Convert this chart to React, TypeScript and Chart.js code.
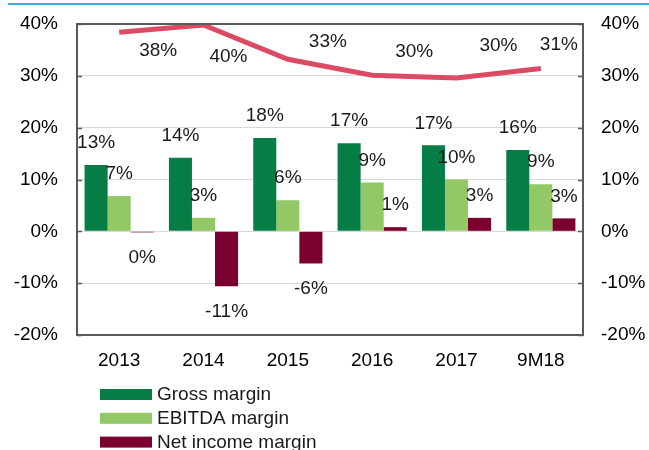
import React, { useEffect, useRef } from "react";
import { Chart, registerables } from "chart.js";

Chart.register(...registerables);

const categories = ["2013", "2014", "2015", "2016", "2017", "9M18"];
const grossMargin = [12.8, 14.2, 18.0, 17.0, 16.6, 15.7];
const ebitdaMargin = [6.8, 2.6, 6.0, 9.4, 10.0, 9.1];
const netIncomeMargin = [-0.2, -10.6, -6.2, 0.8, 2.6, 2.5];
const lineMargin = [38.4, 39.8, 33.2, 30.1, 29.6, 31.4];
const yTicks = [-20, -10, 0, 10, 20, 30, 40];

// label placement offsets (px) for the line's value labels
const lineLabelOffsets: [number, number][] = [
  [39, 18],
  [25, 32],
  [40, -17],
  [42, -24],
  [42, -32],
  [18, -24],
];

const FONT = "'Liberation Sans', Arial, sans-serif";
const COLORS = {
  gross: "#077d46",
  ebitda: "#92c865",
  net: "#7a0030",
  line: "#dc4b64",
  grid: "#d9d9d9",
  frame: "#5a5a5a",
  text: "#1a1a1a",
};

const overlay = {
  id: "overlay",
  afterDraw(chart: any) {
    const ctx = chart.ctx as CanvasRenderingContext2D;
    const { left, right, top, bottom } = chart.chartArea;
    const yScale = chart.scales.y;
    ctx.save();

    // top blue rule
    ctx.strokeStyle = "#41aae1";
    ctx.lineWidth = 2;
    ctx.beginPath();
    ctx.moveTo(8, 4);
    ctx.lineTo(649, 4);
    ctx.stroke();

    // frame
    ctx.strokeStyle = COLORS.frame;
    ctx.lineWidth = 2;
    ctx.strokeRect(left, top, right - left, bottom - top);

    // inner tick marks
    ctx.lineWidth = 1.5;
    yTicks.forEach((t) => {
      const y = Math.round(yScale.getPixelForValue(t)) + 0.5;
      ctx.beginPath();
      ctx.moveTo(left, y);
      ctx.lineTo(left + 5, y);
      ctx.moveTo(right - 5, y);
      ctx.lineTo(right, y);
      ctx.stroke();
    });

    // bar labels
    ctx.font = `19px ${FONT}`;
    ctx.fillStyle = COLORS.text;
    ctx.textAlign = "center";
    ctx.textBaseline = "middle";
    [0, 1, 2].forEach((di) => {
      const ds = chart.data.datasets[di];
      const meta = chart.getDatasetMeta(di);
      meta.data.forEach((el: any, j: number) => {
        const v = ds.data[j] as number;
        const y = v >= 0 ? el.y - 22 : el.y + 25;
        ctx.fillText(`${Math.round(v)}%`, el.x, y);
      });
    });

    // line labels
    const lds = chart.data.datasets[3];
    const lmeta = chart.getDatasetMeta(3);
    lmeta.data.forEach((el: any, j: number) => {
      const v = lds.data[j] as number;
      const [dx, dy] = lineLabelOffsets[j];
      ctx.fillText(`${Math.round(v)}%`, el.x + dx, el.y + dy);
    });

    // legend
    ctx.textAlign = "left";
    [0, 1, 2].forEach((di, k) => {
      const ds = chart.data.datasets[di];
      const cy = 394.5 + k * 23.8;
      ctx.fillStyle = ds.backgroundColor as string;
      ctx.fillRect(100, cy - 5.5, 52, 11);
      ctx.fillStyle = COLORS.text;
      ctx.fillText(ds.label, 157, cy + 0.5);
    });

    ctx.restore();
  },
};

export default function App() {
  const ref = useRef<HTMLCanvasElement>(null);

  useEffect(() => {
    if (!ref.current) return;
    const tickFont = { family: FONT, size: 19 };
    const chart = new Chart(ref.current, {
      type: "bar",
      data: {
        labels: categories,
        datasets: [
          {
            label: "Gross margin",
            data: grossMargin,
            backgroundColor: COLORS.gross,
            order: 2,
          },
          {
            label: "EBITDA margin",
            data: ebitdaMargin,
            backgroundColor: COLORS.ebitda,
            order: 2,
          },
          {
            label: "Net income margin",
            data: netIncomeMargin,
            backgroundColor: COLORS.net,
            order: 2,
          },
          {
            type: "line",
            label: "Margin",
            data: lineMargin,
            borderColor: COLORS.line,
            borderWidth: 5,
            pointRadius: 0,
            tension: 0,
            order: 1,
          } as any,
        ],
      },
      options: {
        responsive: false,
        devicePixelRatio: 1,
        animation: false,
        datasets: {
          bar: { categoryPercentage: 0.82, barPercentage: 1.0 },
        },
        layout: { padding: { top: 24, left: 0, right: 0, bottom: 0 } },
        plugins: {
          legend: { display: false },
          tooltip: { enabled: false },
          title: { display: false },
        },
        scales: {
          x: {
            grid: { display: false, drawTicks: false },
            border: { display: false },
            ticks: { font: tickFont, color: "#000", padding: 14 },
            afterFit(scale: any) {
              scale.height = 115;
              scale.paddingLeft = 0;
              scale.paddingRight = 0;
            },
          },
          y: {
            position: "left",
            min: -20,
            max: 40,
            grid: { color: COLORS.grid, lineWidth: 1, drawTicks: false },
            border: { display: false },
            ticks: {
              stepSize: 10,
              font: tickFont,
              color: "#000",
              padding: 19,
              callback: (v: any) => `${v}%`,
            },
            afterFit(scale: any) {
              scale.width = 77;
              scale.paddingTop = 0;
              scale.paddingBottom = 0;
            },
          },
          y2: {
            position: "right",
            min: -20,
            max: 40,
            grid: { display: false, drawTicks: false },
            border: { display: false },
            ticks: {
              stepSize: 10,
              font: tickFont,
              color: "#000",
              padding: 18,
              callback: (v: any) => `${v}%`,
            },
            afterFit(scale: any) {
              scale.width = 66;
              scale.paddingTop = 0;
              scale.paddingBottom = 0;
            },
          },
        },
      },
      plugins: [overlay],
    });
    return () => chart.destroy();
  }, []);

  return (
    <div style={{ position: "fixed", left: 0, top: 0, width: 649, height: 450, background: "#fff" }}>
      <canvas ref={ref} width={649} height={450} style={{ display: "block" }} />
    </div>
  );
}
